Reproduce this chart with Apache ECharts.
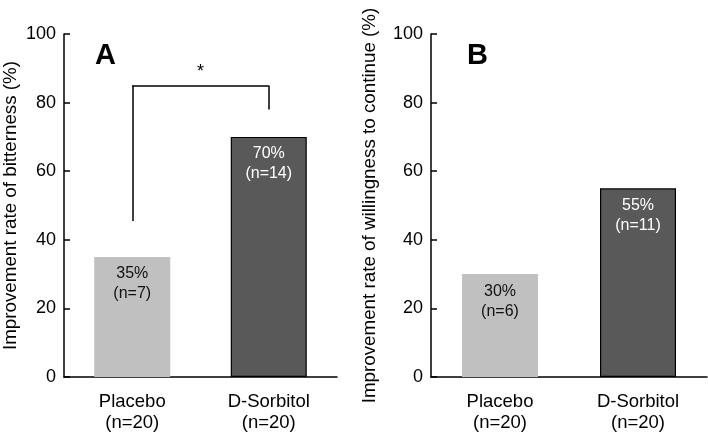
<html>
<head>
    <meta charset="utf-8">
    <title>Improvement rate</title>
    <script src="https://cdn.jsdelivr.net/npm/echarts@6/dist/echarts.min.js"></script>
</head>
<body style="margin:0">
<div id="chartmain" style="width: 708px; height: 434px;"></div>
<script type="text/javascript">
    // data
    var groups = ['Placebo\n(n=20)', 'D-Sorbitol\n(n=20)'];
    var bitterRate = [35, 70];
    var bitterN = [7, 14];
    var continueRate = [30, 55];
    var continueN = [6, 11];
    var yTicks = [0, 20, 40, 60, 80, 100];
    // significance bracket (panel A): left leg bottom, right leg bottom, top
    var bracket = [45.5, 78, 85];

    var barColors = ['#c0c0c0', '#595959'];
    var labelColors = ['#111', '#fff'];
    var font = 'Liberation Sans, Arial, sans-serif';

    function barData(vals, ns) {
        var out = [];
        for (var i = 0; i < vals.length; i++) {
            out.push({
                value: vals[i],
                n: ns[i],
                itemStyle: {
                    color: barColors[i],
                    borderColor: i == 1 ? '#000' : barColors[i],
                    borderWidth: i == 1 ? 1.2 : 0
                },
                label: { color: labelColors[i] }
            });
        }
        return out;
    }

    function yAxis(idx, name, gap) {
        return {
            type: 'value', gridIndex: idx,
            min: yTicks[0], max: yTicks[yTicks.length - 1], interval: 20,
            name: name, nameLocation: 'middle', nameGap: gap,
            nameTextStyle: { fontSize: 18.8, color: '#000', fontFamily: font },
            axisLine: { show: true, lineStyle: { color: '#000', width: 1.5 } },
            axisTick: { show: true, inside: true, length: 6, lineStyle: { color: '#000', width: 1.5 } },
            axisLabel: { fontSize: 18, color: '#000', margin: 8, fontFamily: font },
            splitLine: { show: false }
        };
    }

    function xAxis(idx) {
        return {
            type: 'category', gridIndex: idx, data: groups,
            axisLine: { lineStyle: { color: '#000', width: 1.5 } },
            axisTick: { show: false },
            axisLabel: { fontSize: 18.5, color: '#000', margin: 14, lineHeight: 21, fontFamily: font }
        };
    }

    var barLabel = {
        show: true, position: 'insideTop', distance: 7,
        fontSize: 16, lineHeight: 20, fontFamily: font,
        formatter: function (p) { return p.value + '%\n(n=' + p.data.n + ')'; }
    };

    var myChart = echarts.init(document.getElementById('chartmain'));
    var option = {
        animation: false,
        backgroundColor: '#fff',
        title: [
            { text: 'A', left: 90, top: 36, textStyle: { fontSize: 29, fontWeight: 'bold', color: '#000', fontFamily: font } },
            { text: 'B', left: 462, top: 36, textStyle: { fontSize: 29, fontWeight: 'bold', color: '#000', fontFamily: font } }
        ],
        grid: [
            { left: 60, right: 371, top: 34, bottom: 57 },
            { left: 431, right: 1, top: 34, bottom: 57 }
        ],
        xAxis: [xAxis(0), xAxis(1)],
        yAxis: [
            yAxis(0, 'Improvement rate of bitterness (%)', 44),
            yAxis(1, 'Improvement rate of willingness to continue (%)', 52)
        ],
        series: [
            {
                type: 'bar', xAxisIndex: 0, yAxisIndex: 0, barWidth: 76,
                data: barData(bitterRate, bitterN), label: barLabel,
                emphasis: { disabled: true },
                markLine: {
                    silent: true, symbol: 'none',
                    lineStyle: { color: '#000', width: 1.5, type: 'solid' },
                    label: { show: false },
                    data: [
                        [{ coord: [0, bracket[2]], label: { show: true, position: 'middle', formatter: '*', fontSize: 18, color: '#000', distance: 4 } },
                         { coord: [1, bracket[2]] }],
                        [{ coord: [0, bracket[0]] }, { coord: [0, bracket[2]] }],
                        [{ coord: [1, bracket[1]] }, { coord: [1, bracket[2]] }]
                    ]
                }
            },
            {
                type: 'bar', xAxisIndex: 1, yAxisIndex: 1, barWidth: 76,
                data: barData(continueRate, continueN), label: barLabel,
                emphasis: { disabled: true }
            }
        ]
    };
    myChart.setOption(option);
</script>
</body>
</html>
